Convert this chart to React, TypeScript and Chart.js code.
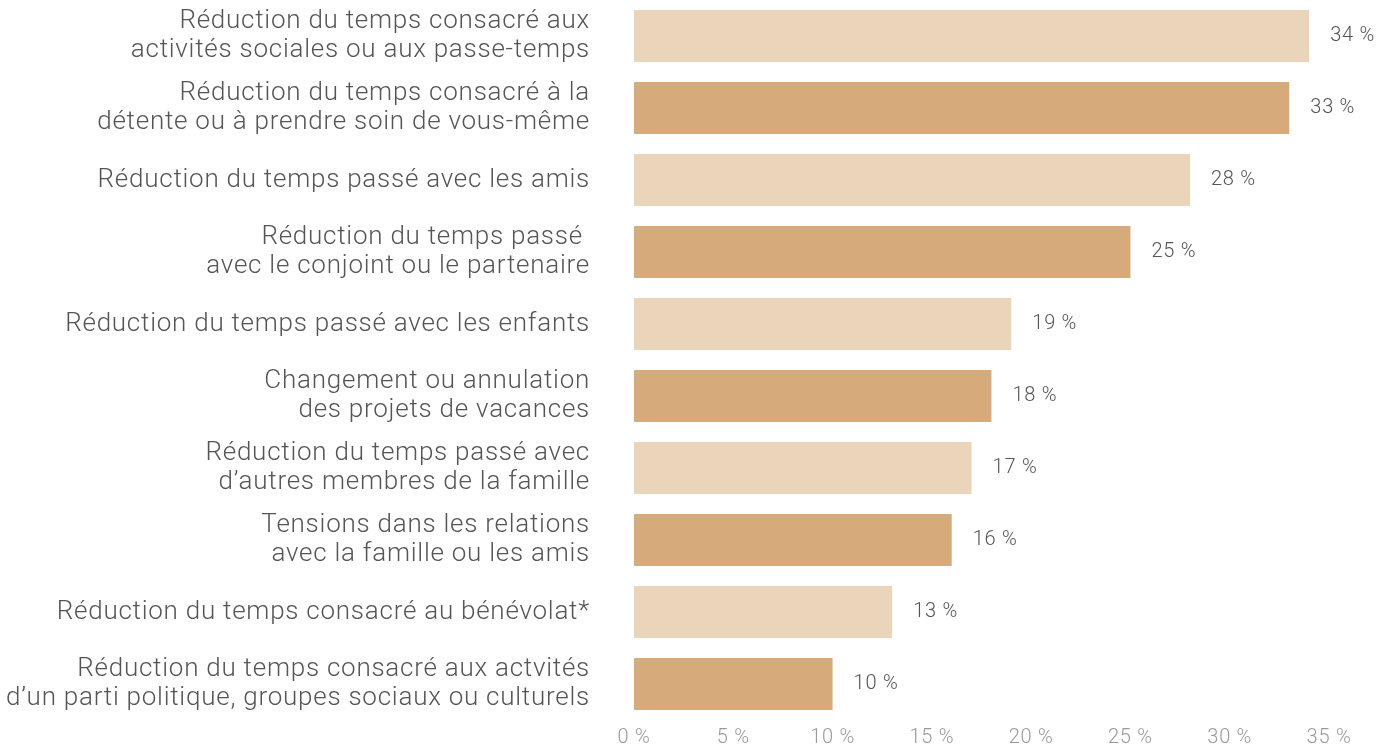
import React, { useEffect, useRef } from "react";
import { Chart, registerables } from "chart.js";

Chart.register(...registerables);

const categories: (string | string[])[] = [
  ["Réduction du temps consacré aux", "activités sociales ou aux passe-temps"],
  ["Réduction du temps consacré à la", "détente ou à prendre soin de vous-même"],
  "Réduction du temps passé avec les amis",
  ["Réduction du temps passé ", "avec le conjoint ou le partenaire"],
  "Réduction du temps passé avec les enfants",
  ["Changement ou annulation", "des projets de vacances"],
  ["Réduction du temps passé avec", "d’autres membres de la famille"],
  ["Tensions dans les relations", "avec la famille ou les amis"],
  "Réduction du temps consacré au bénévolat*",
  ["Réduction du temps consacré aux actvités", "d’un parti politique, groupes sociaux ou culturels"],
];

const values: number[] = [34, 33, 28, 25, 19, 18, 17, 16, 13, 10];

const xTicks: number[] = [0, 5, 10, 15, 20, 25, 30, 35];

const LIGHT = "#EAD4BA";
const DARK = "#D6AA7A";
const FONT = "Roboto, 'Liberation Sans', Arial, sans-serif";

export default function App() {
  const ref = useRef<HTMLCanvasElement | null>(null);

  useEffect(() => {
    const canvas = ref.current;
    if (!canvas) return;

    const spacingPlugin = {
      id: "letterSpacing",
      beforeDraw(chart: any) {
        (chart.ctx as any).letterSpacing = "0.75px";
      },
    };

    const labelPlugin = {
      id: "valueLabels",
      afterDatasetsDraw(chart: any) {
        const ctx = chart.ctx;
        const meta = chart.getDatasetMeta(0);
        ctx.save();
        ctx.letterSpacing = "0.75px";
        ctx.font = `300 20px ${FONT}`;
        ctx.fillStyle = "#555555";
        ctx.textAlign = "left";
        ctx.textBaseline = "middle";
        meta.data.forEach((bar: any, i: number) => {
          ctx.fillText(`${values[i]} %`, bar.x + 21, bar.y);
        });
        ctx.restore();
      },
    };

    const chart = new Chart(canvas, {
      type: "bar",
      data: {
        labels: categories,
        datasets: [
          {
            data: values,
            backgroundColor: values.map((_, i) => (i % 2 === 0 ? LIGHT : DARK)),
            borderWidth: 0,
            barPercentage: 52 / 72,
            categoryPercentage: 1,
          },
        ],
      },
      options: {
        indexAxis: "y",
        animation: false,
        responsive: false,
        layout: { padding: { top: 0, right: 51, bottom: 0, left: 0 } },
        plugins: {
          legend: { display: false },
          tooltip: { enabled: false },
        },
        scales: {
          x: {
            min: 0,
            max: 35,
            afterBuildTicks(scale: any) {
              scale.ticks = xTicks.map((v) => ({ value: v }));
            },
            afterFit(scale: any) {
              scale.height = 26;
            },
            grid: { display: false, drawTicks: false },
            border: { display: false },
            ticks: {
              padding: 6,
              color: "#9a9a9a",
              font: { family: FONT, size: 20, weight: 300 as any },
              callback: (v: any) => `${v} %`,
            },
          },
          y: {
            afterFit(scale: any) {
              scale.width = 634;
              scale.paddingTop = 0;
              scale.paddingBottom = 0;
            },
            grid: { display: false, drawTicks: false },
            border: { display: false },
            ticks: {
              autoSkip: false,
              padding: 44,
              color: "#555555",
              font: { family: FONT, size: 26, weight: 300 as any, lineHeight: 1.08 },
            },
          },
        },
      },
      plugins: [spacingPlugin, labelPlugin],
    });

    return () => chart.destroy();
  }, []);

  return (
    <div style={{ position: "absolute", left: 0, top: 0, width: 1380, height: 746, background: "#fff" }}>
      <canvas ref={ref} width={1380} height={746} style={{ display: "block" }} />
    </div>
  );
}
